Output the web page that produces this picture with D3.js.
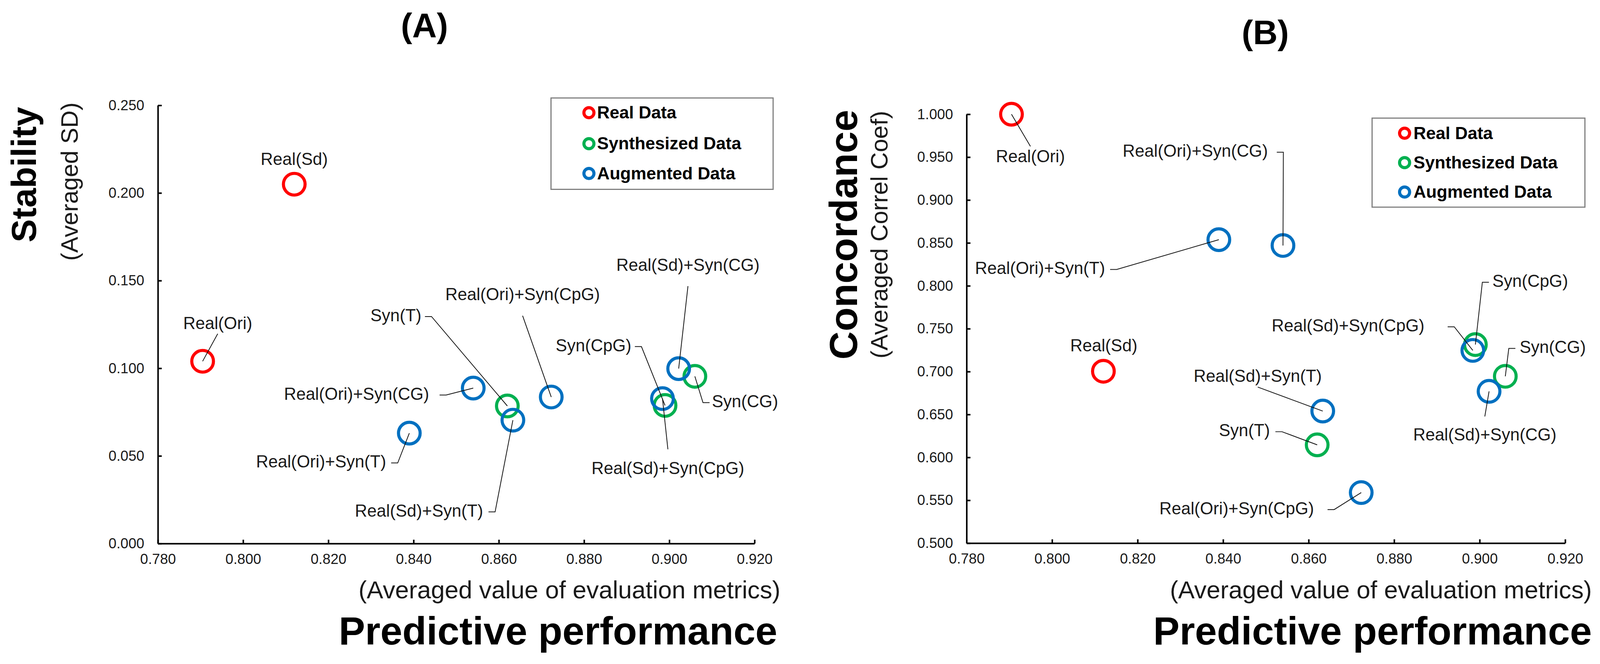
<!DOCTYPE html>
<html>
<head>
<meta charset="utf-8">
<script src="https://cdn.jsdelivr.net/npm/d3@7"></script>
<style>
  html, body { margin: 0; padding: 0; background: #fff; overflow: hidden; }
  svg { display: block; }
</style>
</head>
<body>
<script>
// Data
const seriesNames = ["Real Data", "Synthesized Data", "Augmented Data"];
const pointNames = ["Real(Ori)", "Real(Sd)", "Syn(T)", "Syn(CG)", "Syn(CpG)",
  "Real(Ori)+Syn(T)", "Real(Ori)+Syn(CG)", "Real(Ori)+Syn(CpG)",
  "Real(Sd)+Syn(T)", "Real(Sd)+Syn(CG)", "Real(Sd)+Syn(CpG)"];
const pointSeries = [0, 0, 1, 1, 1, 2, 2, 2, 2, 2, 2];
const predictive = [0.7905, 0.812, 0.862, 0.906, 0.899, 0.839, 0.854, 0.8723, 0.8633, 0.9022, 0.8984];
const stability = [0.104, 0.205, 0.0785, 0.0954, 0.0788, 0.063, 0.0887, 0.0836, 0.0704, 0.0998, 0.0827];
const concordance = [1.000, 0.7004, 0.6146, 0.6945, 0.7315, 0.8538, 0.847, 0.559, 0.654, 0.677, 0.7247];
const xTickValues = [0.78, 0.80, 0.82, 0.84, 0.86, 0.88, 0.90, 0.92];
const stabilityTicks = [0, 0.05, 0.10, 0.15, 0.20, 0.25];
const concordanceTicks = [0.50, 0.55, 0.60, 0.65, 0.70, 0.75, 0.80, 0.85, 0.90, 0.95, 1.00];

// Styles
const seriesColors = ["#ff0000", "#00b050", "#0070c0"];
const FONT = "'Liberation Sans', Arial, Helvetica, sans-serif";
const W = 4135, H = 1699;

// Label placement, pixel offset of the label from its point
// [dx, dy, anchor, gap]  middle: gap = leader start below/above baseline (null = no leader)
//                        start/end: gap = space between text and the small tick
const labelsA = [
  [39, -83, "middle", 12],
  [0, -50, "middle", null],
  [-222, -219, "end", 9],
  [44, 80, "start", 6],
  [-87, -140, "end", 9],
  [-60, 89, "end", 13],
  [-114, 30, "end", 27],
  [-74, -250, "middle", 40],
  [-77, 249, "end", 14],
  [24, -253, "middle", 40],
  [14, 195, "middle", -64]
];
const labelsB = [
  [49, 124, "middle", -41],
  [1, -51, "middle", null],
  [-122, -22, "end", 14],
  [37, -60, "start", 11],
  [44, -149, "start", 9],
  [-294, 89, "end", 13],
  [-39, -229, "end", 23],
  [-122, 56, "end", 35],
  [-168, -76, "middle", 14],
  [-11, 127, "middle", -62],
  [-125, -49, "end", 60]
];

const panels = [
  {
    title: "(A)", titleX: 1097, titleY: 88,
    yTitle: "Stability", yTitleSize: 90, yTitlePos: [93, 443],
    ySub: "(Averaged SD)", ySubPos: [201, 461],
    values: stability, ticks: stabilityTicks, yDomain: [0, 0.25],
    left: 408, right: 1950, bottom: 1396, top: 264,
    legend: { x: 1424, y: 245, w: 574, h: 236, mx: 98, tx: 119, rows: [38, 118, 195] },
    xSubEnd: 2017, xTitleEnd: 2009,
    labels: labelsA
  },
  {
    title: "(B)", titleX: 3270, titleY: 106,
    yTitle: "Concordance", yTitleSize: 101, yTitlePos: [2215, 598],
    ySub: "(Averaged Correl Coef)", ySubPos: [2294, 598],
    values: concordance, ticks: concordanceTicks, yDomain: [0.5, 1.0],
    left: 2498, right: 4045, bottom: 1395, top: 287,
    legend: { x: 3546, y: 297, w: 550, h: 230, mx: 84, tx: 107, rows: [39, 115, 191] },
    xSubEnd: 4114, xTitleEnd: 4114,
    labels: labelsB
  }
];

// viewBox keeps the whole drawing inside the window whatever its exact size
const svg = d3.select("body")
  .append("svg")
  .attr("viewBox", `0 0 ${W} ${H}`)
  .style("width", "100vw")
  .style("height", "100vh")
  .attr("font-family", FONT);

svg.append("rect").attr("width", W).attr("height", H).attr("fill", "#fff");

panels.forEach(p => {
  const g = svg.append("g");

  const x = d3.scaleLinear().domain([0.78, 0.92]).range([p.left, p.right]);
  const y = d3.scaleLinear().domain(p.yDomain).range([p.bottom, p.top]);

  // Panel title
  g.append("text")
    .attr("x", p.titleX).attr("y", p.titleY)
    .attr("text-anchor", "middle")
    .attr("font-size", 88).attr("font-weight", "bold")
    .text(p.title);

  // Axes (ticks pointing inward)
  const xAxis = d3.axisBottom(x)
    .tickValues(xTickValues)
    .tickFormat(d3.format(".3f"))
    .tickSizeInner(-10).tickSizeOuter(0).tickPadding(26);
  const yAxis = d3.axisLeft(y)
    .tickValues(p.ticks)
    .tickFormat(d3.format(".3f"))
    .tickSizeInner(-10).tickSizeOuter(0).tickPadding(35);

  [[xAxis, `translate(0,${p.bottom})`], [yAxis, `translate(${p.left},0)`]].forEach(([ax, tr]) => {
    const a = g.append("g").attr("transform", tr).call(ax);
    a.attr("font-family", FONT).attr("font-size", 37);
    a.select(".domain").attr("stroke", "#000").attr("stroke-width", 4);
    a.selectAll(".tick line").attr("stroke", "#000").attr("stroke-width", 4);
    a.selectAll(".tick text").attr("fill", "#1a1a1a");
  });

  // Axis titles
  g.append("text")
    .attr("transform", `translate(${p.yTitlePos[0]},${p.yTitlePos[1]}) rotate(-90)`)
    .attr("text-anchor", "middle")
    .attr("font-size", p.yTitleSize).attr("font-weight", "bold")
    .text(p.yTitle);
  g.append("text")
    .attr("transform", `translate(${p.ySubPos[0]},${p.ySubPos[1]}) rotate(-90)`)
    .attr("text-anchor", "middle")
    .attr("font-size", 62).attr("fill", "#1a1a1a")
    .text(p.ySub);
  g.append("text")
    .attr("x", p.xSubEnd).attr("y", 1537)
    .attr("text-anchor", "end")
    .attr("font-size", 64).attr("fill", "#1a1a1a")
    .text("(Averaged value of evaluation metrics)");
  g.append("text")
    .attr("x", p.xTitleEnd).attr("y", 1657)
    .attr("text-anchor", "end")
    .attr("font-size", 102).attr("font-weight", "bold")
    .text("Predictive performance");

  // Points, drawn by series so augmented data sits on top
  const pts = pointNames.map((name, i) => ({
    name, s: pointSeries[i], px: x(predictive[i]), py: y(p.values[i]), lab: p.labels[i]
  }));
  const ordered = d3.sort(pts, d => d.s);

  g.append("g").selectAll("circle")
    .data(ordered)
    .join("circle")
    .attr("cx", d => d.px)
    .attr("cy", d => d.py)
    .attr("r", 28)
    .attr("fill", "none")
    .attr("stroke", d => seriesColors[d.s])
    .attr("stroke-width", 8);

  // Labels with leader lines
  const lg = g.append("g");
  pts.forEach(d => {
    const [dx, dy, anchor, gap] = d.lab;
    const tx = d.px + dx, ty = d.py + dy;
    lg.append("text")
      .attr("x", tx).attr("y", ty)
      .attr("text-anchor", anchor)
      .attr("font-size", 44).attr("fill", "#1a1a1a")
      .text(d.name);
    if (gap === null) return;
    let path;
    if (anchor === "middle") {
      path = [[tx, ty + gap], [d.px, d.py]];
    } else {
      const sgn = anchor === "end" ? 1 : -1;
      const sx = tx + sgn * gap, ly = ty - 12;
      path = [[sx, ly], [sx + sgn * 17, ly], [d.px, d.py]];
    }
    lg.append("path")
      .attr("d", d3.line()(path))
      .attr("fill", "none")
      .attr("stroke", "#111")
      .attr("stroke-width", 2);
  });

  // Legend
  const L = p.legend;
  const leg = g.append("g").attr("transform", `translate(${L.x},${L.y})`);
  leg.append("rect")
    .attr("width", L.w).attr("height", L.h)
    .attr("fill", "#fff").attr("stroke", "#7f7f7f").attr("stroke-width", 3);
  seriesNames.forEach((name, i) => {
    leg.append("circle")
      .attr("cx", L.mx).attr("cy", L.rows[i])
      .attr("r", 13).attr("fill", "none")
      .attr("stroke", seriesColors[i]).attr("stroke-width", 8);
    leg.append("text")
      .attr("x", L.tx).attr("y", L.rows[i] + 15)
      .attr("font-size", 45).attr("font-weight", "bold")
      .text(name);
  });
});
</script>
</body>
</html>
